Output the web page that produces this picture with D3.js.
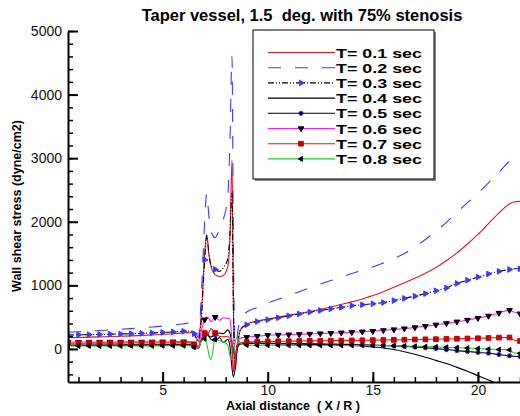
<!DOCTYPE html>
<html>
<head>
<meta charset="utf-8">
<script src="https://cdn.jsdelivr.net/npm/d3@7"></script>
<style>
body { margin: 0; background: #fff; }
text { font-family: "Liberation Sans", Arial, Helvetica, sans-serif; }
.axis path, .axis line { stroke: #000; stroke-width: 2; }
.axis text { font-size: 14px; fill: #111; }
.minor line { stroke: #000; stroke-width: 1.5; }
</style>
</head>
<body>
<svg width="520" height="416"></svg>
<script>
// Axial positions (X / R), shared by every time step
var axial = [0.5, 1, 1.5, 2, 2.5, 3, 3.5, 4, 4.5, 5, 5.5, 6,
    6.3, 6.5, 6.7, 6.85, 7.0, 7.1, 7.2, 7.3, 7.5, 7.7, 7.9, 8.1, 8.2, 8.3, 8.37, 8.45, 8.55, 8.7,
    9, 9.5, 10, 10.5, 11, 11.5, 12, 12.5, 13, 13.5, 14, 14.5, 15, 15.5, 16, 16.5, 17, 17.5, 18, 18.5, 19, 19.5, 20, 20.5, 21, 21.5,
    21.7, 22];

// Wall shear stress (dyne/cm2)
var wssT01 = [175, 180, 185, 190, 195, 200, 205, 212, 220, 228, 238, 252,
    262, 230, 130, 600, 1500, 1800, 1500, 1300, 1170, 1140, 1160, 1300, 1700, 2970, 600, -330, 0, 300,
    390, 440, 470, 500, 530, 560, 590, 625, 660, 700, 740, 785, 840, 900, 970, 1040, 1110, 1190, 1280, 1390, 1510, 1650, 1800, 1970, 2140, 2280,
    2310, 2320];
var wssT02 = [265, 270, 280, 290, 300, 310, 320, 332, 345, 360, 375, 395,
    410, 340, 180, 900, 2000, 2450, 2100, 1850, 1750, 1880, 2050, 2400, 3200, 4600, 1500, -150, 200, 480,
    580, 650, 720, 780, 840, 900, 960, 1020, 1075, 1130, 1185, 1240, 1290, 1350, 1420, 1500, 1610, 1720, 1850, 1990, 2150, 2300, 2450, 2610, 2780, 2950,
    2990, 3050];
var wssT03 = [220, 222, 225, 228, 232, 236, 240, 245, 252, 260, 268, 278,
    283, 240, 110, 500, 1400, 1780, 1500, 1320, 1250, 1220, 1280, 1420, 1800, 2450, 600, -250, 50, 300,
    380, 430, 460, 490, 520, 550, 580, 605, 630, 655, 680, 695, 710, 730, 760, 795, 830, 870, 915, 960, 1030, 1080, 1130, 1180, 1220, 1250,
    1260, 1260];
var wssT04 = [55, 55, 55, 56, 56, 57, 57, 58, 59, 60, 61, 62,
    62, 40, 20, 150, 250, 260, 200, 150, 120, 180, 100, 150, 50, -300, -440, -300, 20, 80,
    85, 85, 82, 80, 78, 75, 72, 68, 64, 60, 55, 45, 30, 15, -10, -45, -85, -130, -180, -230, -290, -350, -420, -490, -560, -640,
    -680, -760];
var wssT05 = [62, 62, 62, 63, 63, 63, 64, 64, 65, 65, 66, 66,
    65, 30, 10, 150, 220, 230, 200, 190, 220, 250, 240, 300, 250, 100, -50, -100, 20, 80,
    95, 92, 90, 88, 86, 84, 82, 80, 77, 74, 70, 66, 62, 55, 48, 40, 30, 18, 5, -10, -27, -40, -55, -68, -88, -108,
    -115, -120];
var wssT06 = [108, 108, 109, 109, 110, 110, 111, 111, 112, 113, 114, 115,
    115, 80, 40, 300, 460, 500, 480, 430, 500, 450, 490, 480, 470, 100, -355, -200, 100, 170,
    185, 200, 215, 220, 225, 230, 235, 242, 248, 255, 262, 271, 280, 292, 305, 320, 338, 358, 380, 402, 428, 455, 485, 520, 565, 610,
    580, 555];
var wssT07 = [90, 90, 91, 91, 92, 92, 93, 93, 94, 94, 95, 95,
    95, 70, 40, 150, 250, 220, 260, 320, 250, 200, 190, 200, 150, 0, -350, -150, 60, 100,
    110, 115, 118, 120, 122, 124, 126, 128, 130, 132, 134, 136, 138, 140, 142, 145, 148, 151, 154, 157, 160, 164, 168, 172, 178, 180,
    140, 125];
var wssT08 = [45, 45, 45, 46, 46, 47, 47, 48, 48, 49, 49, 50,
    50, 30, 20, 120, 160, 80, -80, -170, 150, 130, 110, 60, -100, -170, -140, 100, 180, 90,
    60, 58, 57, 57, 56, 56, 55, 55, 55, 55, 55, 55, 55, 53, 50, 46, 42, 37, 32, 27, 20, 13, 5, -3, -10, -15,
    -60, -70];

var seriesNames = ['T= 0.1 sec', 'T= 0.2 sec', 'T= 0.3 sec', 'T= 0.4 sec',
    'T= 0.5 sec', 'T= 0.6 sec', 'T= 0.7 sec', 'T= 0.8 sec'];
var seriesValues = [wssT01, wssT02, wssT03, wssT04, wssT05, wssT06, wssT07, wssT08];

var xMajorTicks = [5, 10, 15, 20];
var yMajorTicks = [0, 1000, 2000, 3000, 4000, 5000];

// line / symbol styles for each time step
var styles = [
    {color: '#e8141b', dash: null},
    {color: '#3a3aff', dash: '13,14'},
    {color: '#000', dash: '6,2,1,2,1,2', sym: d3.symbolTriangle, rot: 90, fill: '#3a3aff', stroke: '#3a3aff', size: 14},
    {color: '#000', dash: null},
    {color: '#000', dash: null, sym: d3.symbolCircle, rot: 0, fill: '#000', stroke: '#3030ff', size: 14},
    {color: '#ff1aff', dash: null, sym: d3.symbolTriangle, rot: 180, fill: '#000', stroke: '#000', size: 14},
    {color: '#e8141b', dash: null, sym: d3.symbolSquare, rot: 0, fill: '#c80000', stroke: '#c80000', size: 22},
    {color: '#22cc22', dash: null, sym: d3.symbolTriangle, rot: -90, fill: '#000', stroke: '#000', size: 10}
];

var svg = d3.select('svg');

var x = d3.scaleLinear().domain([0.5, 22]).range([68, 520]);
var y = d3.scaleLinear().domain([-520, 5000]).range([382, 31]);

svg.append('defs').append('clipPath').attr('id', 'plotClip')
    .append('rect')
    .attr('x', 68).attr('y', 20)
    .attr('width', 452).attr('height', 362);

// Title
svg.append('text')
    .attr('x', 302).attr('y', 21)
    .attr('text-anchor', 'middle')
    .style('font-size', '16.5px').style('font-weight', 'bold')
    .style('white-space', 'pre')
    .text('Taper vessel, 1.5  deg. with 75% stenosis');

// Curves
var plotG = svg.append('g').attr('clip-path', 'url(#plotClip)');

var line = d3.line()
    .x(function(d) { return x(d[0]); })
    .y(function(d) { return y(d[1]); })
    .curve(d3.curveMonotoneX);

seriesValues.forEach(function(vals, i) {
    var st = styles[i];
    var pts = axial.map(function(a, j) { return [a, vals[j]]; });
    plotG.append('path')
        .datum(pts)
        .attr('fill', 'none')
        .attr('stroke', st.color)
        .attr('stroke-width', 1.1)
        .attr('stroke-dasharray', st.dash)
        .attr('d', line);
    if (st.sym) {
        var marks = pts.filter(function(p) {
            return Math.abs(p[0] * 2 - Math.round(p[0] * 2)) < 1e-6;
        });
        plotG.selectAll(null)
            .data(marks)
            .enter().append('path')
            .attr('d', d3.symbol().type(st.sym).size(st.size))
            .attr('transform', function(p) {
                return 'translate(' + x(p[0]) + ',' + y(p[1]) + ') rotate(' + st.rot + ')';
            })
            .attr('fill', st.fill)
            .attr('stroke', st.stroke)
            .attr('stroke-width', 1);
    }
});

// Axes: minor ticks first, then the major ones with labels
svg.append('g').attr('class', 'minor')
    .attr('transform', 'translate(68,0)')
    .call(d3.axisLeft(y).tickValues(d3.range(-400, 5001, 200)).tickSize(-5).tickFormat(''))
    .call(function(g) { g.select('.domain').remove(); });

svg.append('g').attr('class', 'minor')
    .attr('transform', 'translate(0,382)')
    .call(d3.axisBottom(x).tickValues(d3.range(1, 23, 1)).tickSize(-5).tickFormat(''))
    .call(function(g) { g.select('.domain').remove(); });

svg.append('g').attr('class', 'axis')
    .attr('transform', 'translate(68,0)')
    .call(d3.axisLeft(y).tickValues(yMajorTicks).tickSize(-10).tickSizeOuter(0)
        .tickPadding(6).tickFormat(d3.format('d')));

svg.append('g').attr('class', 'axis')
    .attr('transform', 'translate(0,382)')
    .call(d3.axisBottom(x).tickValues(xMajorTicks).tickSize(-10).tickSizeOuter(0)
        .tickPadding(3).tickFormat(d3.format('d')));

// Axis titles
svg.append('text')
    .attr('transform', 'translate(21,206) rotate(-90)')
    .attr('text-anchor', 'middle')
    .style('font-size', '12.5px').style('font-weight', 'bold')
    .text('Wall shear stress (dyne/cm2)');

svg.append('text')
    .attr('x', 293).attr('y', 410)
    .attr('text-anchor', 'middle')
    .style('font-size', '12.5px').style('font-weight', 'bold')
    .style('white-space', 'pre')
    .text('Axial distance  ( X / R )');

// Legend box with a small grey shadow
var legG = svg.append('g');
legG.append('rect')
    .attr('x', 255).attr('y', 32).attr('width', 181).attr('height', 149)
    .attr('fill', '#888');
legG.append('rect')
    .attr('x', 253).attr('y', 30).attr('width', 181).attr('height', 149)
    .attr('fill', '#fff').attr('stroke', '#000').attr('stroke-width', 1);

seriesNames.forEach(function(name, i) {
    var st = styles[i];
    var cy = 52.5 + i * 15.2;
    legG.append('line')
        .attr('x1', 268).attr('x2', 335)
        .attr('y1', cy).attr('y2', cy)
        .attr('stroke', st.color)
        .attr('stroke-width', 1.1)
        .attr('stroke-dasharray', st.dash);
    if (st.sym) {
        legG.append('path')
            .attr('d', d3.symbol().type(st.sym).size(st.size))
            .attr('transform', 'translate(301,' + cy + ') rotate(' + st.rot + ')')
            .attr('fill', st.fill)
            .attr('stroke', st.stroke);
    }
    legG.append('text')
        .attr('x', 336).attr('y', cy + 5)
        .attr('textLength', 86).attr('lengthAdjust', 'spacingAndGlyphs')
        .style('font-size', '13.5px').style('font-weight', 'bold')
        .text(name);
});
</script>
</body>
</html>
